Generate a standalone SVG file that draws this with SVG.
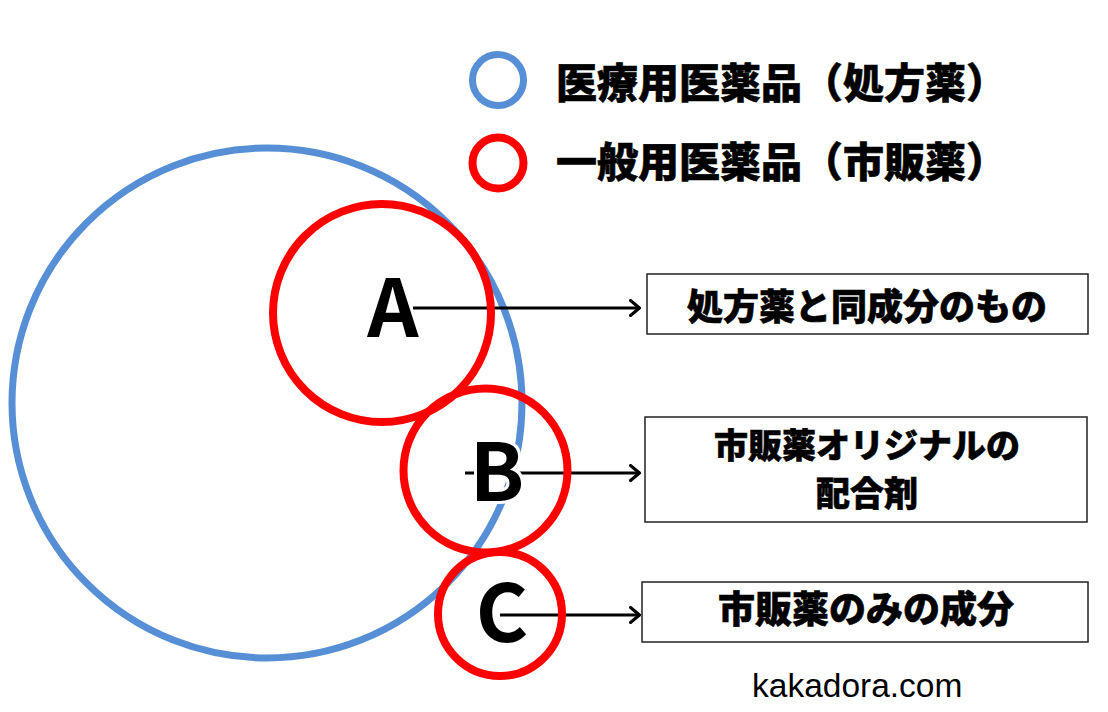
<svg xmlns="http://www.w3.org/2000/svg" width="1108" height="712" viewBox="0 0 1108 712">
<style>
.blue{fill:none;stroke:#568fd5;stroke-width:7}
.red{fill:none;stroke:#ff0000;stroke-width:8}
.jp{font-family:"Noto Sans CJK JP","Noto Sans CJK SC",sans-serif;font-weight:900;fill:#000;stroke:#000;stroke-width:0.6}
.letter{font-family:"Noto Sans CJK JP","Noto Sans",sans-serif;font-weight:700;font-size:80px;fill:#000;stroke:#fff;stroke-width:6;paint-order:stroke;text-anchor:middle}
.box{fill:#fff;stroke:#222;stroke-width:1.5}
.arrow{fill:none;stroke:#000;stroke-width:3}
</style>
<defs>
<marker id="ah" viewBox="0 0 12 18" refX="11" refY="9" markerWidth="12" markerHeight="18" markerUnits="userSpaceOnUse" orient="auto">
<path d="M1.5,1.5 L10.5,9 L1.5,16.5" fill="none" stroke="#000" stroke-width="3" stroke-linecap="round" stroke-linejoin="round"/>
</marker>
</defs>
<rect width="1108" height="712" fill="#fff"/>
<g id="legend">
<circle cx="498" cy="80" r="25.5" class="blue"/>
<text x="556" y="98" class="jp" font-size="41">医療用医薬品（処方薬）</text>
<circle cx="498" cy="163" r="25.5" class="red" stroke-width="7"/>
<text x="556" y="177" class="jp" font-size="41">一般用医薬品（市販薬）</text>
</g>
<g id="rx-circle">
<circle cx="267" cy="403" r="255" class="blue"/>
</g>
<g id="connectors">
<line x1="413" y1="308" x2="640" y2="308" class="arrow" marker-end="url(#ah)"/>
<line x1="465" y1="473" x2="640" y2="473" class="arrow" marker-end="url(#ah)"/>
<line x1="500" y1="615" x2="640" y2="615" class="arrow" marker-end="url(#ah)"/>
</g>
<g id="A">
<circle cx="382" cy="313" r="109" class="red"/>
<text x="393" y="337" class="letter">A</text>
</g>
<g id="B">
<circle cx="485.5" cy="470.5" r="82" class="red" stroke-width="9"/>
<text x="497" y="501" class="letter">B</text>
</g>
<g id="C">
<circle cx="500" cy="614" r="62" class="red"/>
<text x="502" y="642" class="letter">C</text>
</g>
<g id="box1">
<rect x="647" y="274" width="441" height="60" class="box"/>
<text x="867" y="320" class="jp" font-size="36" text-anchor="middle">処方薬と同成分のもの</text>
</g>
<g id="box2">
<rect x="645" y="417" width="442" height="105" class="box"/>
<text x="867" y="458" class="jp" font-size="34" text-anchor="middle">市販薬オリジナルの</text>
<text x="867" y="506" class="jp" font-size="34" text-anchor="middle">配合剤</text>
</g>
<g id="box3">
<rect x="642" y="582" width="446" height="60" class="box"/>
<text x="866" y="623" class="jp" font-size="37" text-anchor="middle">市販薬のみの成分</text>
</g>
<g id="credit">
<text x="752" y="697" font-family="Liberation Sans, Arial, sans-serif" font-size="33.5" fill="#000">kakadora.com</text>
</g>
</svg>
